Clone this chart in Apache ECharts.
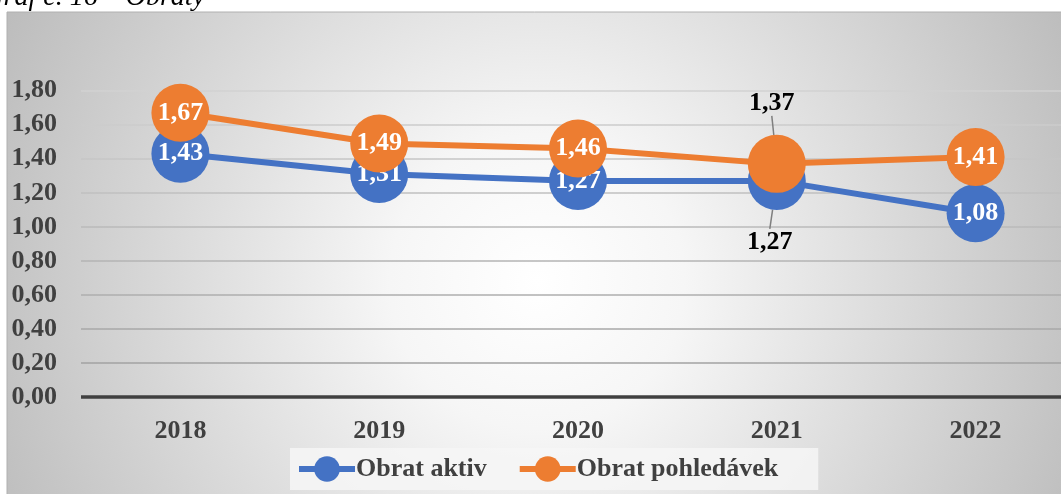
<!DOCTYPE html>
<html>
<head>
<meta charset="utf-8">
<script src="https://cdn.jsdelivr.net/npm/echarts@6/dist/echarts.min.js"></script>
<style>
  html, body { margin: 0; padding: 0; background: #fff; }
  #chart { width: 1061px; height: 494px; }
</style>
</head>
<body>
<div id="chart"></div>
<script>
// data
const years = ['2018', '2019', '2020', '2021', '2022'];
const obratAktiv = [1.43, 1.31, 1.27, 1.27, 1.08];
const obratPohledavek = [1.67, 1.49, 1.46, 1.37, 1.41];
const seriesNames = ['Obrat aktiv', 'Obrat pohledávek'];
const titleText = 'Graf č. 16 – Obraty';

const FONT = '"Liberation Serif", "Times New Roman", serif';
const fmt = v => v.toFixed(2).replace('.', ',');

// body u roku 2021 maji popisek mimo kruh s vodici carou
const outsideIdx = 3;

function buildData(values) {
  return values.map((v, i) => {
    if (i !== outsideIdx) return v;
    return {
      value: v,
      label: { color: '#000' },
      labelLine: { show: true, lineStyle: { color: '#7f7f7f', width: 1.5 } }
    };
  });
}

const chart = echarts.init(document.getElementById('chart'));

const option = {
  animation: false,
  textStyle: { fontFamily: FONT },
  graphic: [
    {
      type: 'rect',
      z: -10,
      silent: true,
      shape: { x: 7, y: 12, width: 1060, height: 490 },
      style: {
        fill: {
          type: 'radial', x: 0.5, y: 0.55, r: 1.2,
          colorStops: [
            { offset: 0, color: '#ffffff' },
            { offset: 0.25, color: '#f6f6f6' },
            { offset: 1, color: '#bdbdbd' }
          ]
        },
        stroke: '#b0b0b0',
        lineWidth: 1
      }
    },
    {
      type: 'text',
      silent: true,
      style: {
        text: titleText,
        x: 205, y: -2,
        align: 'right',
        verticalAlign: 'middle',
        fontFamily: FONT,
        fontStyle: 'italic',
        fontSize: 28,
        fill: '#000'
      }
    }
  ],
  grid: { left: 81, top: 90.7, width: 994, bottom: 97, outerBoundsMode: 'none' },
  legend: {
    data: seriesNames,
    bottom: 4,
    left: 290,
    itemWidth: 56,
    itemHeight: 32,
    itemGap: 30,
    padding: [8, 40, 8, 6],
    backgroundColor: 'rgba(246,246,246,0.85)',
    lineStyle: { width: 6 },
    textStyle: { fontFamily: FONT, fontSize: 26, fontWeight: 'bold', color: '#404040', padding: [0, 0, 0, -4] }
  },
  xAxis: {
    type: 'category',
    data: years,
    axisTick: { show: false },
    axisLine: { show: false },
    axisLabel: { fontFamily: FONT, fontSize: 26, fontWeight: 'bold', color: '#404040', margin: 21 }
  },
  yAxis: {
    type: 'value',
    min: 0,
    max: 1.8,
    interval: 0.2,
    axisLine: { show: false },
    axisTick: { show: false },
    axisLabel: {
      fontFamily: FONT, fontSize: 26, fontWeight: 'bold', color: '#404040', margin: 24,
      formatter: v => fmt(v)
    },
    splitLine: {
      lineStyle: {
        width: 1.5,
        color: {
          type: 'linear', x: 0, y: 90, x2: 0, y2: 397, global: true,
          colorStops: [
            { offset: 0, color: '#d2d2d2' },
            { offset: 1, color: '#9c9c9c' }
          ]
        }
      }
    }
  },
  series: [
    {
      name: seriesNames[0],
      type: 'line',
      data: buildData(obratAktiv),
      color: '#4472C4',
      lineStyle: { width: 6 },
      symbol: 'circle',
      symbolSize: 58,
      z: 3,
      label: {
        show: true, position: 'inside', color: '#fff',
        fontFamily: FONT, fontSize: 26, fontWeight: 'bold',
        formatter: p => fmt(p.value)
      },
      labelLayout: p => (p.dataIndex === outsideIdx ? { dx: -7, dy: 61 } : {})
    },
    {
      name: seriesNames[1],
      type: 'line',
      data: buildData(obratPohledavek),
      color: '#ED7D31',
      lineStyle: { width: 6 },
      symbol: 'circle',
      symbolSize: 58,
      z: 4,
      label: {
        show: true, position: 'inside', color: '#fff',
        fontFamily: FONT, fontSize: 26, fontWeight: 'bold',
        formatter: p => fmt(p.value)
      },
      labelLayout: p => (p.dataIndex === outsideIdx ? { dx: -5, dy: -61 } : {})
    },
    {
      // zakladni osa 0,00
      type: 'line',
      data: [],
      markLine: {
        silent: true,
        symbol: 'none',
        label: { show: false },
        lineStyle: { color: '#404040', width: 3.5, type: 'solid' },
        data: [{ yAxis: 0 }]
      }
    }
  ]
};

chart.setOption(option);
</script>
</body>
</html>
